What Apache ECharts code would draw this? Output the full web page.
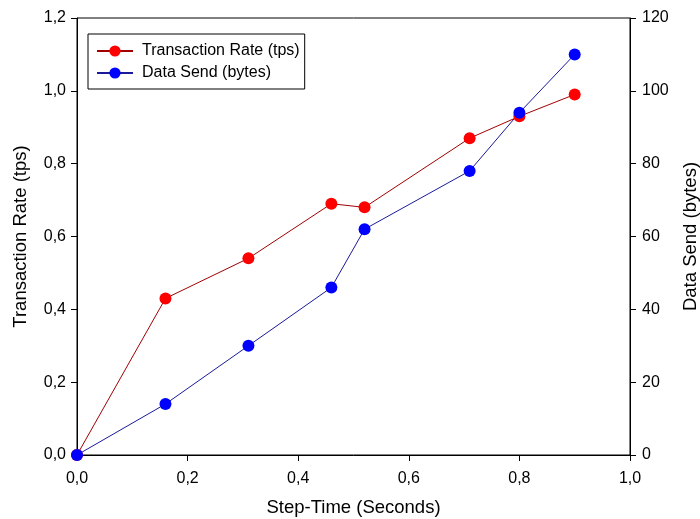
<!DOCTYPE html>
<html>
<head>
<meta charset="utf-8">
<script src="https://cdn.jsdelivr.net/npm/echarts@6/dist/echarts.min.js"></script>
<style>
  html, body { margin: 0; padding: 0; background: #fff; }
  #chart { width: 700px; height: 519px; }
</style>
</head>
<body>
<div id="chart"></div>
<script>
// step time (seconds)
const stepTime = [0, 0.16, 0.31, 0.46, 0.52, 0.71, 0.80, 0.90]
// transaction rate (tps), left axis
const txRate = [0, 0.43, 0.54, 0.69, 0.68, 0.87, 0.93, 0.99]
// data send (bytes), right axis
const dataSend = [0, 14, 30, 46, 62, 78, 94, 110]

const font = 'Liberation Sans, Arial, sans-serif'
const comma = v => v.toFixed(1).replace('.', ',')

const chart = echarts.init(document.getElementById('chart'))

const axisCommon = {
  axisLine: { show: true, lineStyle: { color: '#000', width: 1 } },
  axisTick: { show: true, length: 6, lineStyle: { color: '#000' } },
  splitLine: { show: false },
  nameTextStyle: { fontFamily: font, fontSize: 18.5, color: '#000' }
}
const labelStyle = { fontFamily: font, fontSize: 16, color: '#000' }

const option = {
  animation: false,
  grid: {
    left: 77, right: 70, top: 18, bottom: 64,
    outerBoundsMode: 'none',
    containLabel: false,
    show: true, borderColor: '#000', borderWidth: 1
  },
  legend: {
    orient: 'vertical',
    left: 88, top: 34,
    padding: [9, 5, 8, 8],
    itemGap: 6,
    itemWidth: 36,
    itemHeight: 14,
    borderColor: '#000',
    borderWidth: 1,
    textStyle: { fontFamily: font, fontSize: 16, color: '#000', padding: [0, 0, 0, 4] },
    data: ['Transaction Rate (tps)', 'Data Send (bytes)']
  },
  xAxis: Object.assign({}, axisCommon, {
    type: 'value', min: 0, max: 1, interval: 0.2,
    name: 'Step-Time (Seconds)', nameLocation: 'middle', nameGap: 43,
    axisLabel: Object.assign({ margin: 16, formatter: comma }, labelStyle)
  }),
  yAxis: [
    Object.assign({}, axisCommon, {
      type: 'value', min: 0, max: 1.2, interval: 0.2, position: 'left',
      name: 'Transaction Rate (tps)', nameLocation: 'middle', nameGap: 47,
      axisLabel: Object.assign({ margin: 11, padding: [4, 0, 0, 0], formatter: comma }, labelStyle)
    }),
    Object.assign({}, axisCommon, {
      type: 'value', min: 0, max: 120, interval: 20, position: 'right',
      name: 'Data Send (bytes)', nameLocation: 'middle', nameGap: 51,
      nameRotate: 90,
      axisLabel: Object.assign({ margin: 12, padding: [4, 0, 0, 0] }, labelStyle)
    })
  ],
  series: [
    {
      name: 'Transaction Rate (tps)',
      type: 'line',
      yAxisIndex: 0,
      data: stepTime.map((x, i) => [x, txRate[i]]),
      symbol: 'circle',
      symbolSize: 12,
      itemStyle: { color: '#ff0000' },
      lineStyle: { color: '#a00000', width: 1 }
    },
    {
      name: 'Data Send (bytes)',
      type: 'line',
      yAxisIndex: 1,
      data: stepTime.map((x, i) => [x, dataSend[i]]),
      symbol: 'circle',
      symbolSize: 12,
      itemStyle: { color: '#0000ff' },
      lineStyle: { color: '#1a1a9a', width: 1 }
    }
  ]
}

chart.setOption(option)
</script>
</body>
</html>
